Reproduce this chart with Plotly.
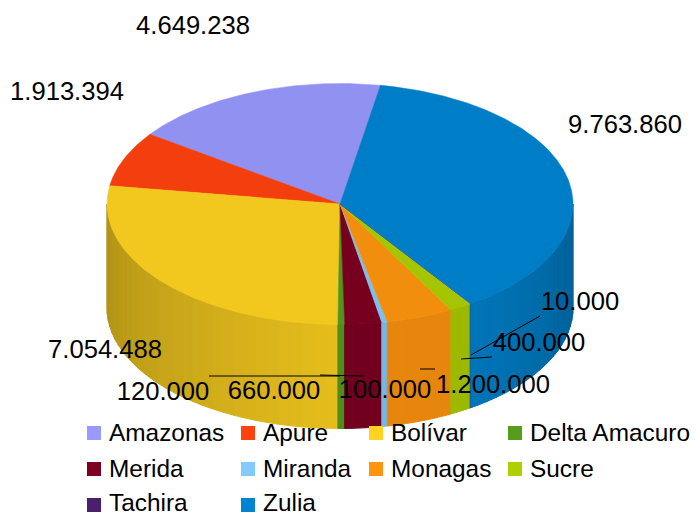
import math
import plotly.graph_objects as go

# ---- data ----
categories = ["Amazonas", "Apure", "Bolívar", "Delta Amacuro", "Merida",
              "Miranda", "Monagas", "Sucre", "Tachira", "Zulia"]
values = [4649238, 1913394, 7054488, 120000, 660000,
          100000, 1200000, 400000, 10000, 9763860]
colors = ["#9999ff", "#ff420e", "#ffd320", "#579d1c", "#7e0021",
          "#83caff", "#ff950e", "#aecf00", "#4b1f6f", "#0084d1"]
value_labels = ["4.649.238", "1.913.394", "7.054.488", "120.000", "660.000",
                "100.000", "1.200.000", "400.000", "10.000", "9.763.860"]

# ---- layout constants (pixels) ----
W, H = 696, 516
CX, CY, RX, RY, DEPTH = 340, 204, 233, 120.5, 104
START = 80
FONT = "Liberation Sans, Arial, sans-serif"
label_pos = [(193, 28), (67, 94), (105, 352), (163, 394), (274, 393),
             (385, 392), (493, 387), (539, 345), (580, 304), (625, 127)]
legend_cols = [87, 241, 369, 508]
legend_rows = [433, 469, 505]
legend_text_dy = [2, 2, 0]
leaders = [((209, 376), (340, 376)), ((320, 375), (363, 376)),
           ((420, 369), (435, 369)), ((461, 359), (492, 357)),
           ((471, 355), (540, 316))]


def pt(a, dz=0):
    r = math.radians(a)
    return CX + RX * math.cos(r), CY - RY * math.sin(r) + dz


def shade(hexcol, f):
    return "rgb(%d,%d,%d)" % tuple(
        round(int(hexcol[i:i + 2], 16) * f) for i in (1, 3, 5))


def wall_factor(a):
    a = a % 360
    if a < 270:
        return 0.68 + (a - 180) / 90 * 0.22
    if a < 300:
        return 0.90
    return 0.90 - (a - 300) / 60 * 0.19


total = sum(values)
bounds = [START]
for v in values:
    bounds.append(bounds[-1] + v / total * 360)

fig = go.Figure()


def poly(pts, col, lw=0):
    fig.add_trace(go.Scatter(
        x=[p[0] for p in pts] + [pts[0][0]],
        y=[p[1] for p in pts] + [pts[0][1]],
        mode="lines", fill="toself", fillcolor=col,
        line=dict(color=col, width=lw), hoverinfo="skip", showlegend=False))


# side walls, in bands across the visible front half
STEP = 3
for i, col in enumerate(colors):
    a0, a1 = bounds[i], bounds[i + 1]
    lo, hi = max(a0, 180), min(a1, 360)
    if hi <= lo:
        continue
    a = lo
    while a < hi - 1e-9:
        b = min(hi, (math.floor(a / STEP) + 1) * STEP)
        n = max(2, int((b - a) * 2) + 1)
        arc = [a + (b - a) * k / (n - 1) for k in range(n)]
        pts = [pt(t) for t in arc] + [pt(t, DEPTH) for t in reversed(arc)]
        poly(pts, shade(col, wall_factor((a + b) / 2)), lw=1)
        a = b

# top wedges
for i, col in enumerate(colors):
    a0, a1 = bounds[i], bounds[i + 1]
    n = max(2, int((a1 - a0) * 2) + 1)
    pts = [(CX, CY)] + [pt(a0 + (a1 - a0) * k / (n - 1)) for k in range(n)]
    poly(pts, shade(col, 0.95), lw=0.5)

# leader lines
for (p, q) in leaders:
    fig.add_trace(go.Scatter(x=[p[0], q[0]], y=[p[1], q[1]], mode="lines",
                             line=dict(color="black", width=1),
                             hoverinfo="skip", showlegend=False))

# value labels
fig.add_trace(go.Scatter(
    x=[p[0] for p in label_pos], y=[p[1] for p in label_pos],
    mode="text", text=value_labels, textposition="middle center",
    textfont=dict(family=FONT, size=25.6, color="black"),
    hoverinfo="skip", showlegend=False))

# legend
for i, (name, col) in enumerate(zip(categories, colors)):
    c, r = i % 4, i // 4
    fig.add_trace(go.Scatter(
        x=[legend_cols[c] + 7], y=[legend_rows[r]],
        mode="markers", marker=dict(symbol="square", size=14, color=col,
                                    line=dict(width=0)),
        hoverinfo="skip", showlegend=False))
    fig.add_trace(go.Scatter(
        x=[legend_cols[c] + 22], y=[legend_rows[r] + legend_text_dy[r]],
        mode="text", text=[name], textposition="middle right",
        textfont=dict(family=FONT, size=24.4, color="black"),
        hoverinfo="skip", showlegend=False))

fig.update_layout(
    width=W, height=H, autosize=False,
    margin=dict(l=0, r=0, t=0, b=0),
    paper_bgcolor="white", plot_bgcolor="white",
    xaxis=dict(range=[0, W], visible=False, fixedrange=True),
    yaxis=dict(range=[H, 0], visible=False, fixedrange=True),
)
fig.write_html("out.html", config={"displayModeBar": False},
               post_script="document.body.style.margin='0';document.body.style.overflow='hidden';")
